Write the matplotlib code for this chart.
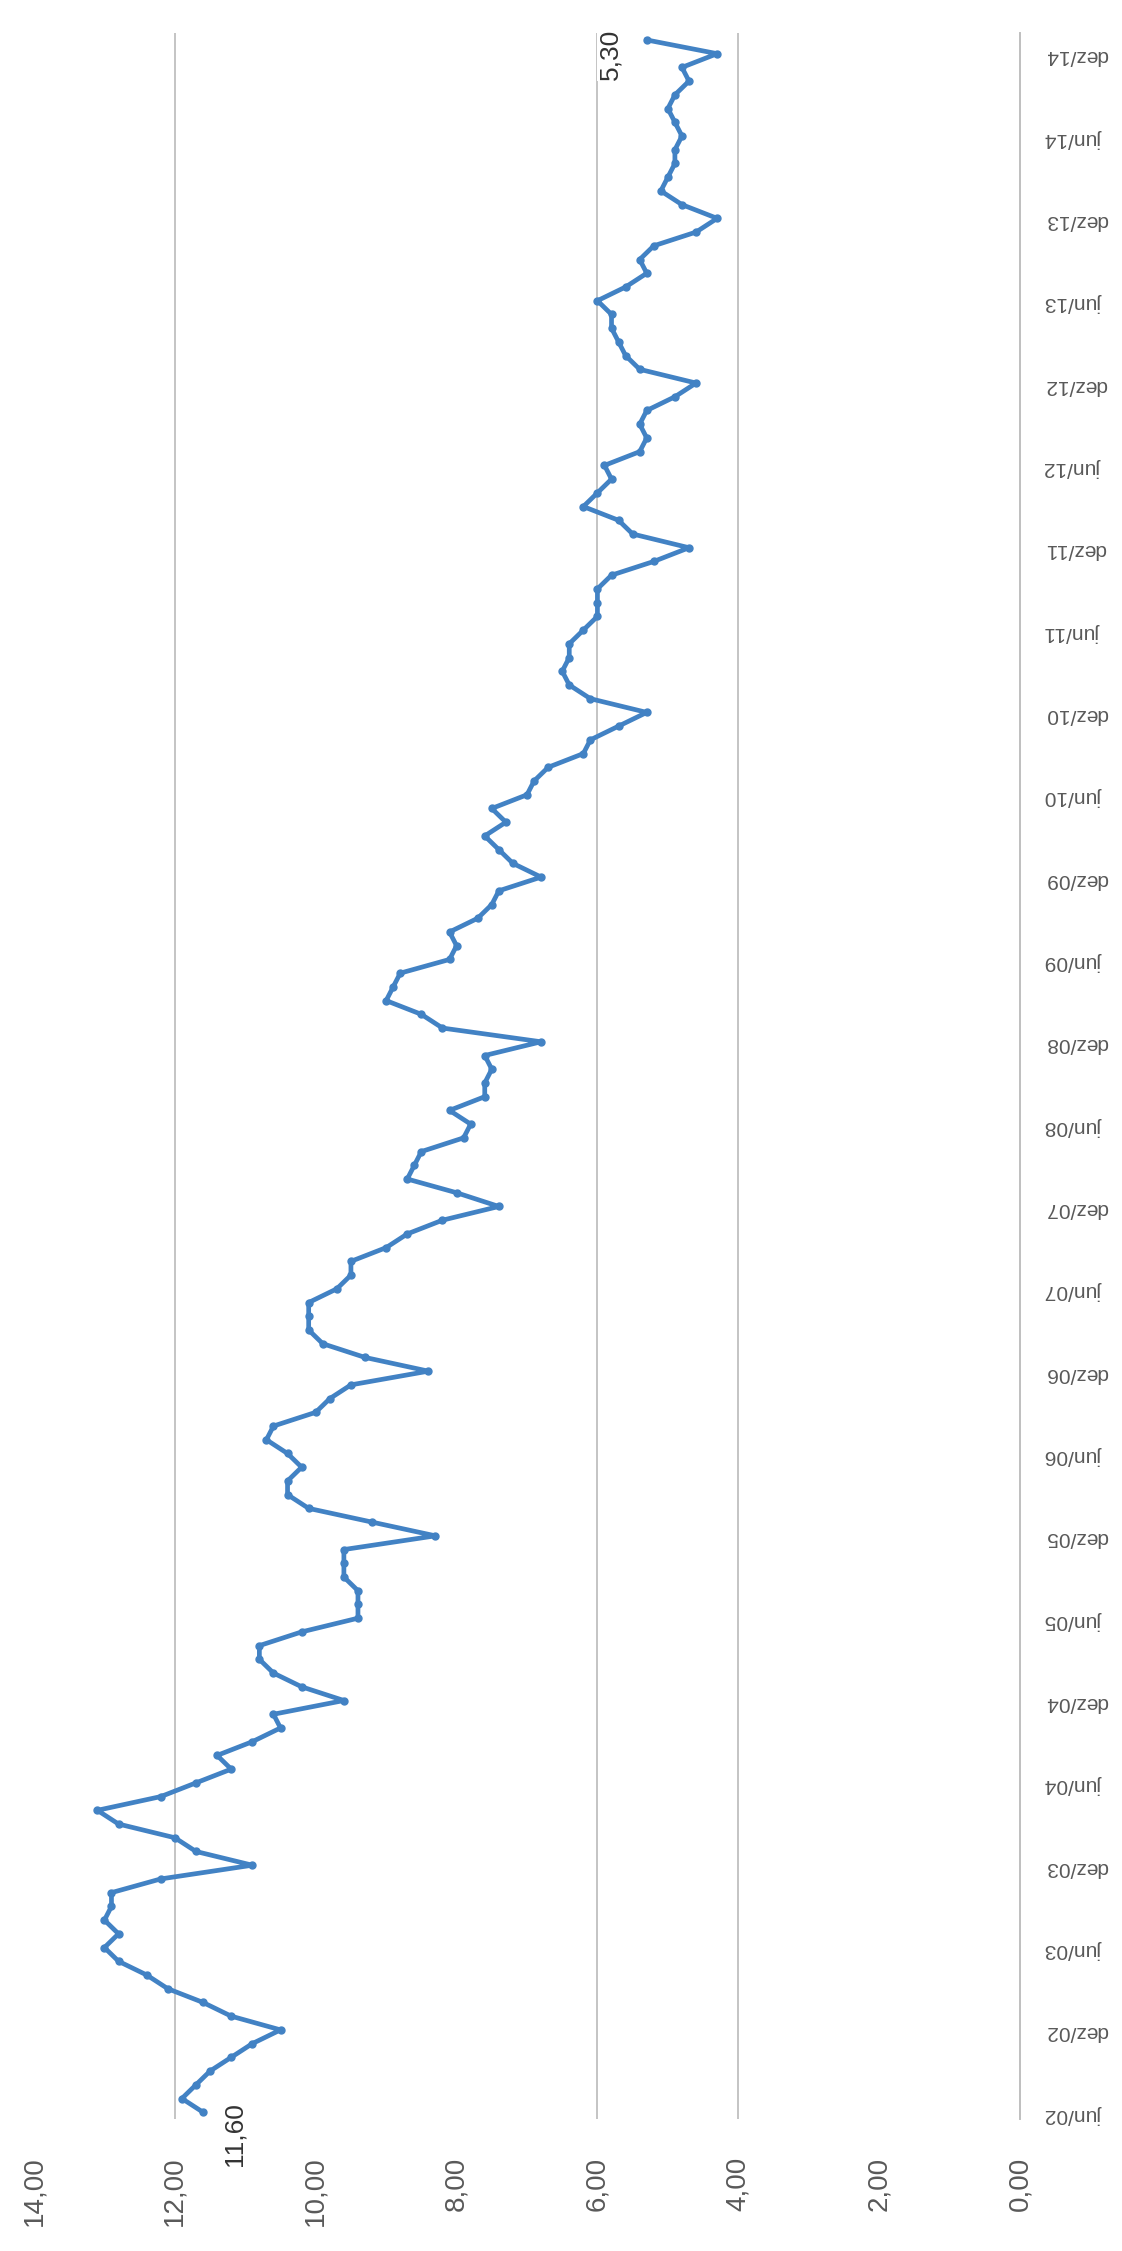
import matplotlib
matplotlib.use('Agg')
import matplotlib.pyplot as plt

plt.rcParams['font.family'] = ['Liberation Sans', 'DejaVu Sans']

# taxa de desemprego mensal, jun/02 ... jan/15
taxa = [
    11.6, 11.9, 11.7, 11.5, 11.2, 10.9, 10.5,                          # 2002 jun-dez
    11.2, 11.6, 12.1, 12.4, 12.8, 13.0, 12.8, 13.0, 12.9, 12.9, 12.2, 10.9,  # 2003
    11.7, 12.0, 12.8, 13.1, 12.2, 11.7, 11.2, 11.4, 10.9, 10.5, 10.6, 9.6,   # 2004
    10.2, 10.6, 10.8, 10.8, 10.2, 9.4, 9.4, 9.4, 9.6, 9.6, 9.6, 8.3,         # 2005
    9.2, 10.1, 10.4, 10.4, 10.2, 10.4, 10.7, 10.6, 10.0, 9.8, 9.5, 8.4,      # 2006
    9.3, 9.9, 10.1, 10.1, 10.1, 9.7, 9.5, 9.5, 9.0, 8.7, 8.2, 7.4,           # 2007
    8.0, 8.7, 8.6, 8.5, 7.9, 7.8, 8.1, 7.6, 7.6, 7.5, 7.6, 6.8,              # 2008
    8.2, 8.5, 9.0, 8.9, 8.8, 8.1, 8.0, 8.1, 7.7, 7.5, 7.4, 6.8,              # 2009
    7.2, 7.4, 7.6, 7.3, 7.5, 7.0, 6.9, 6.7, 6.2, 6.1, 5.7, 5.3,              # 2010
    6.1, 6.4, 6.5, 6.4, 6.4, 6.2, 6.0, 6.0, 6.0, 5.8, 5.2, 4.7,              # 2011
    5.5, 5.7, 6.2, 6.0, 5.8, 5.9, 5.4, 5.3, 5.4, 5.3, 4.9, 4.6,              # 2012
    5.4, 5.6, 5.7, 5.8, 5.8, 6.0, 5.6, 5.3, 5.4, 5.2, 4.6, 4.3,              # 2013
    4.8, 5.1, 5.0, 4.9, 4.9, 4.8, 4.9, 5.0, 4.9, 4.7, 4.8, 4.3,              # 2014
    5.3,                                                               # 2015 jan
]

meses = ['jun/02', 'dez/02', 'jun/03', 'dez/03', 'jun/04', 'dez/04',
         'jun/05', 'dez/05', 'jun/06', 'dez/06', 'jun/07', 'dez/07',
         'jun/08', 'dez/08', 'jun/09', 'dez/09', 'jun/10', 'dez/10',
         'jun/11', 'dez/11', 'jun/12', 'dez/12', 'jun/13', 'dez/13',
         'jun/14', 'dez/14']

valores_eixo = [14, 12, 10, 8, 6, 4, 2, 0]
rotulos_eixo = ['14,00', '12,00', '10,00', '8,00', '6,00', '4,00', '2,00', '0,00']
linhas_grade = [12, 6, 4]

idx = list(range(len(taxa)))
pos_meses = idx[::6][:len(meses)]

fig = plt.figure(figsize=(11.22, 22.51), dpi=100)
ax = fig.add_axes([0.0303, 0.0586, 0.8788, 0.9267])

# grid lines (only the visible ones)
for g in linhas_grade:
    ax.axvline(g, color='#c4c4c4', lw=1.4, zorder=0)

ax.plot(taxa, idx, color='#4282c4', lw=3.4, marker='o', ms=5, zorder=3)

ax.set_xlim(14, 0)
ax.set_ylim(-0.5, len(taxa) - 0.5)

ax.set_xticks(valores_eixo)
ax.set_xticklabels(rotulos_eixo, rotation=90, fontsize=20, color='#595959')
ax.tick_params(axis='x', length=0, pad=27)

ax.yaxis.tick_right()
ax.set_yticks(pos_meses)
ax.set_yticklabels(meses, rotation=180, fontsize=15, color='#595959')
ax.tick_params(axis='y', length=0, pad=18)

for s in ['top', 'left', 'bottom']:
    ax.spines[s].set_visible(False)
ax.spines['right'].set_color('#bfbfbf')
ax.spines['right'].set_linewidth(1.4)

# data labels on first and last point
ax.annotate('11,60', xy=(taxa[0], idx[0]), xytext=(31, -22), textcoords='offset pixels',
            rotation=90, fontsize=19, ha='center', va='center', color='#333333')
ax.annotate('5,30', xy=(taxa[-1], idx[-1]), xytext=(-36, -14), textcoords='offset pixels',
            rotation=90, fontsize=19, ha='center', va='center', color='#333333',
            bbox=dict(facecolor='white', edgecolor='none', pad=1))

fig.savefig('out.png', dpi=100)
